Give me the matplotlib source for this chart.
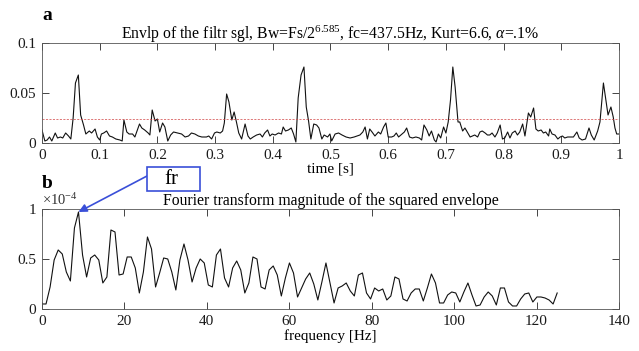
import numpy as np
import matplotlib
matplotlib.use("Agg")
import matplotlib.pyplot as plt
from matplotlib.patches import Rectangle

plt.rcParams['font.family'] = ['Liberation Serif', 'DejaVu Serif']
plt.rcParams['mathtext.fontset'] = 'custom'
plt.rcParams['mathtext.rm'] = 'Liberation Serif'
plt.rcParams['mathtext.it'] = 'Liberation Serif:italic'
plt.rcParams['font.size'] = 11

# envelope of the filtered signal (time [s], amplitude)
t_env = [0.000, 0.005, 0.009, 0.013, 0.017, 0.023, 0.027, 0.032, 0.036, 0.041,
         0.046, 0.050, 0.054, 0.058, 0.063, 0.067, 0.072, 0.076, 0.082, 0.086,
         0.092, 0.096, 0.100, 0.103, 0.107, 0.112, 0.117, 0.122, 0.128, 0.135,
         0.139, 0.142, 0.147, 0.151, 0.157, 0.161, 0.169, 0.173, 0.178, 0.184,
         0.187, 0.191, 0.196, 0.200, 0.204, 0.209, 0.213, 0.218, 0.223, 0.228,
         0.235, 0.242,
         0.248, 0.254, 0.259, 0.265, 0.271, 0.277, 0.281, 0.285, 0.289, 0.294,
         0.299, 0.303, 0.309, 0.313, 0.316, 0.320, 0.324, 0.329, 0.333, 0.337,
         0.341, 0.346, 0.352, 0.357, 0.361, 0.366, 0.372, 0.378, 0.382, 0.386,
         0.391, 0.395, 0.399, 0.404, 0.410, 0.415, 0.418, 0.422, 0.427, 0.432,
         0.436, 0.440, 0.444, 0.449, 0.454, 0.458, 0.462, 0.466, 0.471, 0.476,
         0.480, 0.485, 0.489, 0.495, 0.499, 0.502,
         0.508, 0.514, 0.520, 0.527, 0.534, 0.541, 0.546, 0.551, 0.556, 0.560,
         0.564, 0.568, 0.572, 0.577, 0.583, 0.587, 0.592, 0.596, 0.600, 0.606,
         0.610, 0.614, 0.618, 0.624, 0.628, 0.632, 0.637, 0.642, 0.648, 0.654,
         0.658, 0.662, 0.667, 0.671, 0.675, 0.680, 0.683, 0.687, 0.691, 0.696,
         0.700, 0.704, 0.708, 0.712, 0.716, 0.721, 0.724, 0.729, 0.733, 0.737,
         0.742, 0.746,
         0.750, 0.755, 0.759, 0.763, 0.768, 0.772, 0.776, 0.780, 0.785, 0.789,
         0.794, 0.798, 0.802, 0.807, 0.811, 0.815, 0.820, 0.824, 0.828, 0.833,
         0.837, 0.843, 0.847, 0.852, 0.856, 0.860, 0.865, 0.869, 0.873, 0.878,
         0.880, 0.884, 0.889, 0.894, 0.898, 0.902, 0.906, 0.911, 0.915, 0.921,
         0.927, 0.931, 0.936, 0.942, 0.948, 0.952, 0.957, 0.963, 0.967, 0.973,
         0.977, 0.981, 0.986, 0.990, 0.993, 0.996, 1.000]
env = [0.013, 0.002, 0.003, 0.006, 0.002, 0.010, 0.005, 0.006, 0.005, 0.010,
       0.007, 0.004, 0.025, 0.060, 0.068, 0.028, 0.018, 0.009, 0.012, 0.010,
       0.014, 0.006, 0.003, 0.009, 0.010, 0.012, 0.007, 0.006, 0.004, 0.003,
       0.002, 0.023, 0.011, 0.009, 0.009, 0.006, 0.019, 0.015, 0.013, 0.010,
       0.008, 0.033, 0.022, 0.024, 0.011, 0.020, 0.016, 0.002, 0.008, 0.011,
       0.010, 0.009,
       0.006, 0.007, 0.010, 0.009, 0.007, 0.006, 0.006, 0.006, 0.007, 0.004,
       0.010, 0.011, 0.010, 0.012, 0.020, 0.049, 0.041, 0.023, 0.031, 0.021,
       0.010, 0.004, 0.019, 0.007, 0.004, 0.006, 0.008, 0.009, 0.006, 0.010,
       0.013, 0.007, 0.009, 0.008, 0.010, 0.009, 0.016, 0.012, 0.013, 0.015,
       0.009, 0.001, 0.045, 0.068, 0.076, 0.036, 0.022, 0.004, 0.019, 0.018,
       0.015, 0.004, 0.008, 0.006, 0.009, 0.002,
       0.009, 0.010, 0.008, 0.006, 0.005, 0.006, 0.007, 0.008, 0.011, 0.016,
       0.004, 0.014, 0.011, 0.007, 0.011, 0.009, 0.016, 0.020, 0.006, 0.006,
       0.007, 0.010, 0.006, 0.009, 0.011, 0.015, 0.006, 0.005, 0.006, 0.005,
       0.003, 0.018, 0.013, 0.007, 0.012, 0.003, 0.001, 0.009, 0.005, 0.016,
       0.010, 0.021, 0.043, 0.076, 0.056, 0.021, 0.021, 0.012, 0.015, 0.011,
       0.006, 0.007,
       0.008, 0.006, 0.011, 0.012, 0.010, 0.008, 0.008, 0.010, 0.006, 0.010,
       0.018, 0.004, 0.005, 0.011, 0.005, 0.010, 0.012, 0.008, 0.011, 0.019,
       0.007, 0.030, 0.026, 0.035, 0.014, 0.012, 0.013, 0.010, 0.011, 0.007,
       0.014, 0.009, 0.008, 0.004, 0.006, 0.007, 0.005, 0.006, 0.006, 0.006,
       0.011, 0.005, 0.003, 0.004, 0.015, 0.008, 0.003, 0.012, 0.021, 0.060,
       0.044, 0.028, 0.036, 0.026, 0.015, 0.009, 0.009]
threshold = 0.0237

# Fourier transform magnitude of squared envelope, units of 1e-4, 0..125 Hz
spec = [0.05, 0.05, 0.22, 0.49, 0.59, 0.55, 0.37, 0.28, 0.81, 0.97,
        0.54, 0.32, 0.51, 0.54, 0.49, 0.26, 0.32, 0.79, 0.77, 0.34,
        0.35, 0.52, 0.52, 0.41, 0.16, 0.37, 0.72, 0.60, 0.22, 0.36,
        0.51, 0.50, 0.37, 0.19, 0.49, 0.65, 0.49, 0.27, 0.41, 0.50,
        0.46, 0.24, 0.22, 0.54, 0.60, 0.31, 0.22, 0.41, 0.48, 0.39,
        0.16, 0.26, 0.52, 0.50, 0.22, 0.20, 0.39, 0.43, 0.34, 0.13,
        0.31, 0.46, 0.36, 0.12, 0.21, 0.30, 0.36, 0.25, 0.09, 0.27,
        0.46, 0.26, 0.06, 0.21, 0.23, 0.26, 0.18, 0.13, 0.34, 0.36,
        0.16, 0.10, 0.21, 0.18, 0.20, 0.09, 0.13, 0.32, 0.30, 0.10,
        0.08, 0.16, 0.20, 0.20, 0.08, 0.21, 0.35, 0.26, 0.06, 0.06,
        0.14, 0.17, 0.16, 0.07, 0.17, 0.26, 0.14, 0.03, 0.04, 0.12,
        0.17, 0.13, 0.04, 0.21, 0.21, 0.07, 0.03, 0.03, 0.10, 0.15,
        0.16, 0.07, 0.12, 0.12, 0.11, 0.09, 0.05, 0.16]
f_max = 125.0
freq = np.linspace(0, f_max, len(spec))

axcol = '#262626'
blue = '#3a4fd8'

fig = plt.figure(figsize=(6.39, 3.51), dpi=100)
ax1 = fig.add_axes([0.0657, 0.5926, 0.903, 0.2849])
ax2 = fig.add_axes([0.0657, 0.1197, 0.903, 0.2849])

for ax in (ax1, ax2):
    ax.tick_params(direction='in', top=True, right=True, length=5, width=0.6,
                   colors=axcol, labelcolor='#1a1a1a', pad=4)
    for s in ax.spines.values():
        s.set_linewidth(0.6)
        s.set_color('#555555')

# panel a
ax1.plot(t_env, env, color='#111111', lw=0.8)
ax1.axhline(threshold, color='#d04040', lw=0.5, ls=(0, (3, 2)))
ax1.set_xlim(0, 1)
ax1.set_ylim(0, 0.1)
ax1.set_xticks(np.arange(0, 1.01, 0.1))
ax1.set_xticklabels(['0', '0.1', '0.2', '0.3', '0.4', '0.5', '0.6', '0.7',
                     '0.8', '0.9', '1'])
ax1.set_yticks([0, 0.05, 0.1])
ax1.set_yticklabels(['0', '0.05', '0.1'])
ax1.set_xlabel('time [s]', labelpad=1)
ax1.set_title(r'Envlp of the filtr sgl, Bw=Fs/2$^{6.585}$, fc=437.5Hz, '
              r'Kurt=6.6, $\alpha$=.1%', fontsize=11.3, pad=3)

# panel b
ax2.plot(freq, spec, color='#111111', lw=0.8)
ax2.set_xlim(0, 140)
ax2.set_ylim(0, 1)
ax2.set_xticks(np.arange(0, 141, 20))
ax2.set_yticks([0, 0.5, 1])
ax2.set_yticklabels(['0', '0.5', '1'])
ax2.set_xlabel('frequency [Hz]', labelpad=1)
ax2.set_title('Fourier transform magnitude of the squared envelope',
              fontsize=11.3, pad=3)
ax2.text(0.0, 1.01, r'$\times 10^{-4}$', transform=ax2.transAxes,
         ha='left', va='bottom', fontsize=10.5, color='#333333')

# fr annotation
ipk = int(np.argmax(spec))
fig.add_artist(Rectangle((147 / 639, 1 - 191 / 351), 53 / 639, 24 / 351,
                         transform=fig.transFigure, facecolor='white',
                         edgecolor=blue, lw=1.2))
fig.text(171 / 639, 1 - 180 / 351, 'fr', fontsize=15, ha='center',
         va='center')
ax2.annotate('', xy=(freq[ipk], spec[ipk]), xycoords='data',
             xytext=(147 / 639, 1 - 176 / 351), textcoords='figure fraction',
             arrowprops=dict(arrowstyle='-|>', color=blue, lw=1.2,
                             shrinkA=0, shrinkB=0, mutation_scale=12),
             annotation_clip=False)

fig.text(42 / 639, 1 - 15 / 351, 'a', fontsize=14, fontweight='bold',
         ha='left', va='center')
fig.text(42 / 639, 1 - 183 / 351, 'b', fontsize=14, fontweight='bold',
         ha='left', va='center')

fig.savefig('out.png', dpi=100)
